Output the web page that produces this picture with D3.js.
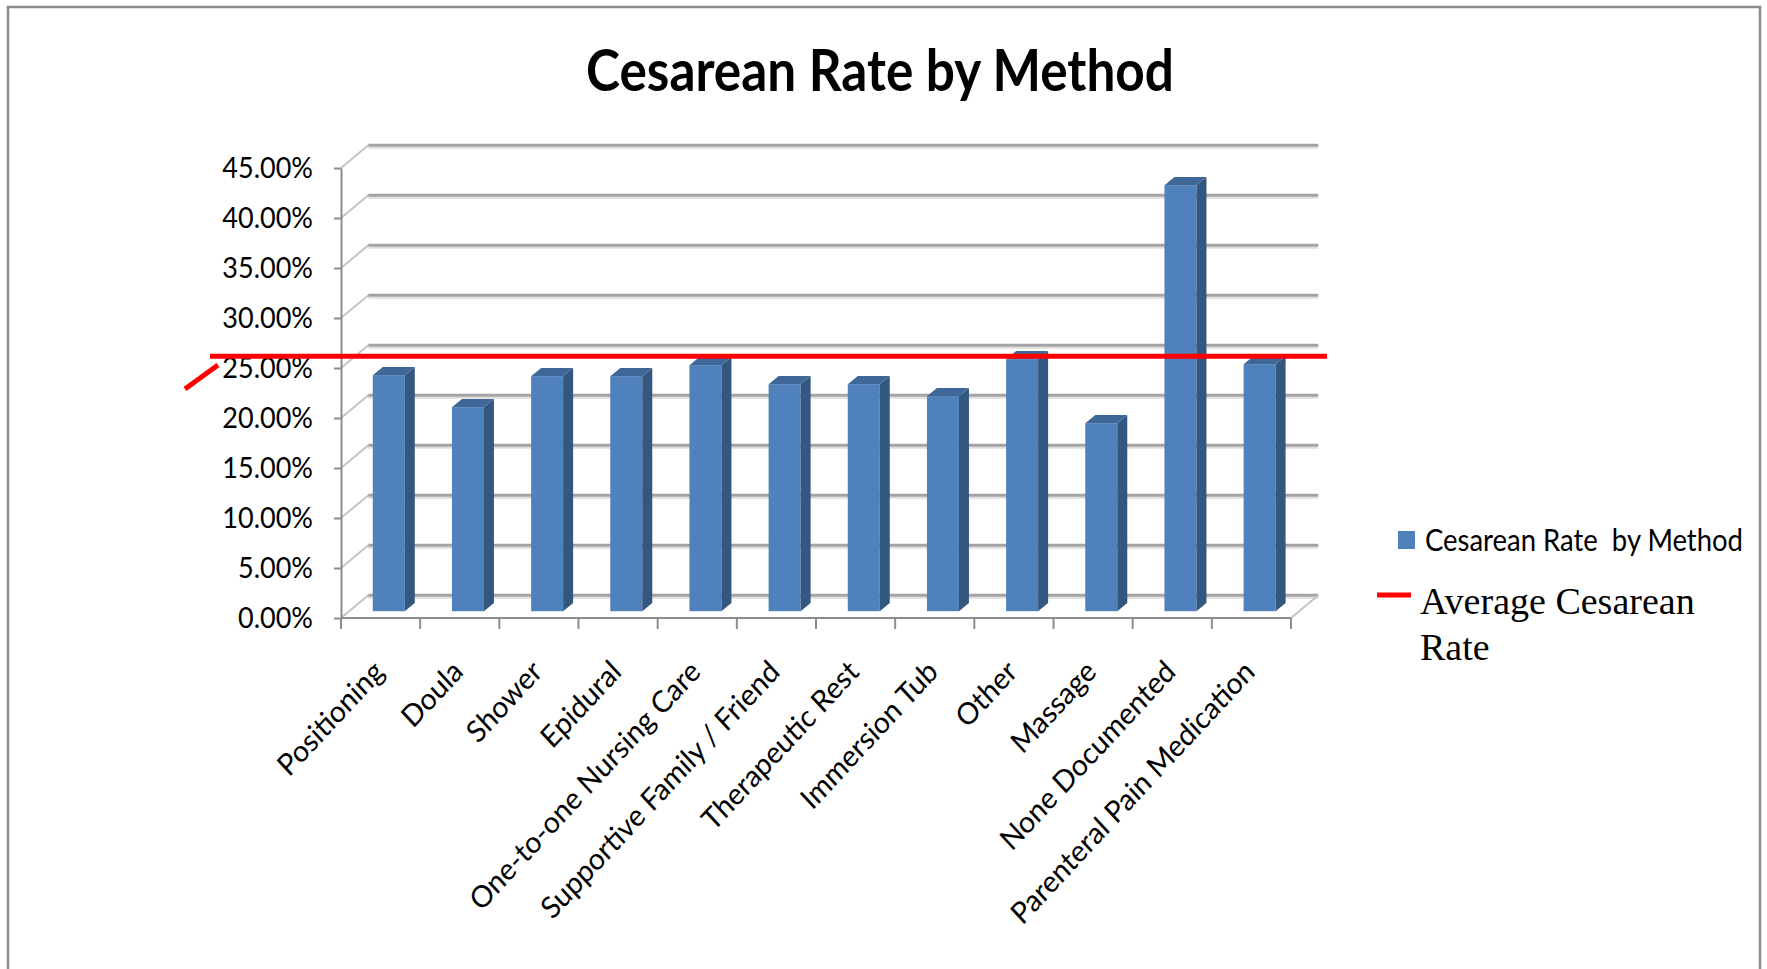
<!DOCTYPE html>
<html>
<head>
<meta charset="utf-8">
<script src="https://cdn.jsdelivr.net/npm/d3@7"></script>
<style>
	body { margin: 0; background: #fff; }
	text { fill: #000; }
</style>
</head>
<body>
<div id="chart"></div>
<script>

// chart data
const categories = ["Positioning", "Doula", "Shower", "Epidural", "One-to-one Nursing Care",
	"Supportive Family / Friend", "Therapeutic Rest", "Immersion Tub", "Other", "Massage",
	"None Documented", "Parenteral Pain Medication"];
const rates = [0.236, 0.204, 0.235, 0.235, 0.246, 0.227, 0.227, 0.215, 0.252, 0.188, 0.426, 0.247];
const averageRate = 0.255;
const yTicks = [0, 0.05, 0.10, 0.15, 0.20, 0.25, 0.30, 0.35, 0.40, 0.45];
const chartTitle = "Cesarean Rate by Method";
const barSeriesName = "Cesarean Rate  by Method";
const averageSeriesName = ["Average Cesarean", "Rate"];

function drawChart() {
	let width = 1767, height = 969;
	let svg = d3.select("#chart")
		.append("svg")
		.attr("width", width)
		.attr("height", height);

	let gridColor = "#a3a3a3";
	let axisColor = "#8c8c8c";
	// the source picture is a little stretched vertically
	let stretch = 1.08;
	// 3D depth of the plot box (front -> back wall)
	let depth = { x: 27.3, y: -22.7 };
	let barFront = 0.3, barDepth = { x: 10, y: -8.3 };
	let barWidth = 32;

	// outer frame
	svg.append("rect")
		.attr("x", 8).attr("y", 7)
		.attr("width", 1752).attr("height", 1000)
		.attr("fill", "#fff")
		.attr("stroke", axisColor)
		.attr("stroke-width", 2.5);

	// title
	svg.append("text")
		.attr("x", 880).attr("y", 91)
		.attr("text-anchor", "middle")
		.attr("font-family", "Lato, 'Open Sans', sans-serif")
		.attr("font-weight", "bold")
		.attr("font-size", 57)
		.attr("textLength", 588)
		.attr("lengthAdjust", "spacingAndGlyphs")
		.text(chartTitle);

	// scales
	let xScale = d3.scaleBand().domain(categories).range([341, 1291]);
	let yScale = d3.scaleLinear().domain([0, 0.45]).range([618, 168]);
	let yBar = v => yScale(v) + depth.y * barFront;

	let x0 = xScale.range()[0], x1 = xScale.range()[1];

	// side wall diagonals
	svg.append("g").selectAll("line")
		.data(yTicks)
		.join("line")
		.attr("x1", x0).attr("y1", d => yScale(d))
		.attr("x2", x0 + depth.x).attr("y2", d => yScale(d) + depth.y)
		.attr("stroke", "#c4c4c4")
		.attr("stroke-width", 2);

	// back wall gridlines (with a soft shadow)
	let grid = svg.append("g");
	grid.selectAll("line.shadow")
		.data(yTicks)
		.join("line")
		.attr("class", "shadow")
		.attr("x1", x0 + depth.x).attr("x2", x1 + depth.x)
		.attr("y1", d => yScale(d) + depth.y + 2.5)
		.attr("y2", d => yScale(d) + depth.y + 2.5)
		.attr("stroke", "#dedede")
		.attr("stroke-width", 2);
	grid.selectAll("line.main")
		.data(yTicks)
		.join("line")
		.attr("class", "main")
		.attr("x1", x0 + depth.x).attr("x2", x1 + depth.x)
		.attr("y1", d => yScale(d) + depth.y)
		.attr("y2", d => yScale(d) + depth.y)
		.attr("stroke", gridColor)
		.attr("stroke-width", 3);

	// floor right edge
	svg.append("line")
		.attr("x1", x1).attr("y1", yScale(0))
		.attr("x2", x1 + depth.x).attr("y2", yScale(0) + depth.y)
		.attr("stroke", "#c4c4c4")
		.attr("stroke-width", 2);

	// y axis
	let yAxis = svg.append("g")
		.attr("transform", `translate(${x0}, 0)`)
		.call(d3.axisLeft(yScale)
			.tickValues(yTicks)
			.tickFormat(d3.format(".2%"))
			.tickSize(7)
			.tickSizeOuter(0)
			.tickPadding(21));
	yAxis.select(".domain").attr("stroke", axisColor).attr("stroke-width", 2);
	yAxis.selectAll(".tick line").attr("stroke", axisColor).attr("stroke-width", 2);
	yAxis.selectAll(".tick text")
		.attr("transform", `scale(1, ${stretch})`)
		.attr("font-family", "Lato, sans-serif")
		.attr("font-size", 27)
		.attr("fill", "#000");

	// x axis line and boundary ticks
	svg.append("line")
		.attr("x1", x0).attr("x2", x1)
		.attr("y1", yScale(0)).attr("y2", yScale(0))
		.attr("stroke", axisColor)
		.attr("stroke-width", 2);
	let bounds = categories.map(c => xScale(c)).concat([x1]);
	svg.append("g").selectAll("line")
		.data(bounds)
		.join("line")
		.attr("x1", d => d).attr("x2", d => d)
		.attr("y1", yScale(0)).attr("y2", yScale(0) + 11)
		.attr("stroke", axisColor)
		.attr("stroke-width", 2);

	// category labels
	let xAxis = svg.append("g")
		.attr("transform", `translate(0, ${yScale(0)})`)
		.call(d3.axisBottom(xScale).tickSize(0).tickSizeOuter(0));
	xAxis.select(".domain").remove();
	xAxis.selectAll(".tick text")
		.attr("x", 0).attr("y", 0)
		.attr("dy", "0.35em")
		.attr("text-anchor", "end")
		.attr("transform", `translate(-2, 48) scale(1, ${stretch}) rotate(-45)`)
		.attr("font-family", "Lato, sans-serif")
		.attr("font-size", 28)
		.attr("fill", "#000");

	// 3D bars
	let bars = svg.append("g").selectAll("g")
		.data(categories.map((c, i) => ({ cat: c, value: rates[i] })))
		.join("g");
	let bx = d => xScale(d.cat) + xScale.bandwidth() / 2 + depth.x * barFront - barWidth / 2;

	bars.append("rect")
		.attr("x", bx)
		.attr("y", d => yBar(d.value))
		.attr("width", barWidth)
		.attr("height", d => yBar(0) - yBar(d.value))
		.attr("fill", "#4f81bd");

	bars.append("path")
		.attr("d", d => {
			let x = bx(d) + barWidth, yt = yBar(d.value), yb = yBar(0);
			return `M${x},${yt} L${x + barDepth.x},${yt + barDepth.y} L${x + barDepth.x},${yb + barDepth.y} L${x},${yb} Z`;
		})
		.attr("fill", "#34577f");

	bars.append("path")
		.attr("d", d => {
			let x = bx(d), yt = yBar(d.value);
			return `M${x},${yt} L${x + barDepth.x},${yt + barDepth.y} L${x + barWidth + barDepth.x},${yt + barDepth.y} L${x + barWidth},${yt} Z`;
		})
		.attr("fill", "#3f6899");

	// average line
	svg.append("line")
		.attr("x1", 210).attr("x2", 1327)
		.attr("y1", yBar(averageRate)).attr("y2", yBar(averageRate))
		.attr("stroke", "#ff0000")
		.attr("stroke-width", 5);

	// stray red stroke left of the axis
	svg.append("line")
		.attr("x1", 185).attr("y1", 389)
		.attr("x2", 218).attr("y2", 365)
		.attr("stroke", "#ff0000")
		.attr("stroke-width", 5);

	// legend
	let legend = svg.append("g");
	legend.append("rect")
		.attr("x", 1398).attr("y", 531)
		.attr("width", 17).attr("height", 18)
		.attr("fill", "#4f81bd");
	legend.append("text")
		.attr("transform", `translate(1425, 551) scale(1, ${stretch})`)
		.attr("font-family", "Lato, sans-serif")
		.attr("font-size", 28)
		.attr("textLength", 318)
		.attr("lengthAdjust", "spacingAndGlyphs")
		.style("white-space", "pre")
		.text(barSeriesName);
	legend.append("line")
		.attr("x1", 1377).attr("x2", 1411)
		.attr("y1", 595).attr("y2", 595)
		.attr("stroke", "#ff0000")
		.attr("stroke-width", 5);
	legend.append("text")
		.attr("font-family", "'Liberation Serif', 'DejaVu Serif', serif")
		.attr("font-size", 38)
		.selectAll("tspan")
		.data(averageSeriesName)
		.join("tspan")
		.attr("x", 1420)
		.attr("y", (d, i) => 614 + i * 46)
		.text(d => d);
}

drawChart();
</script>
</body>
</html>
